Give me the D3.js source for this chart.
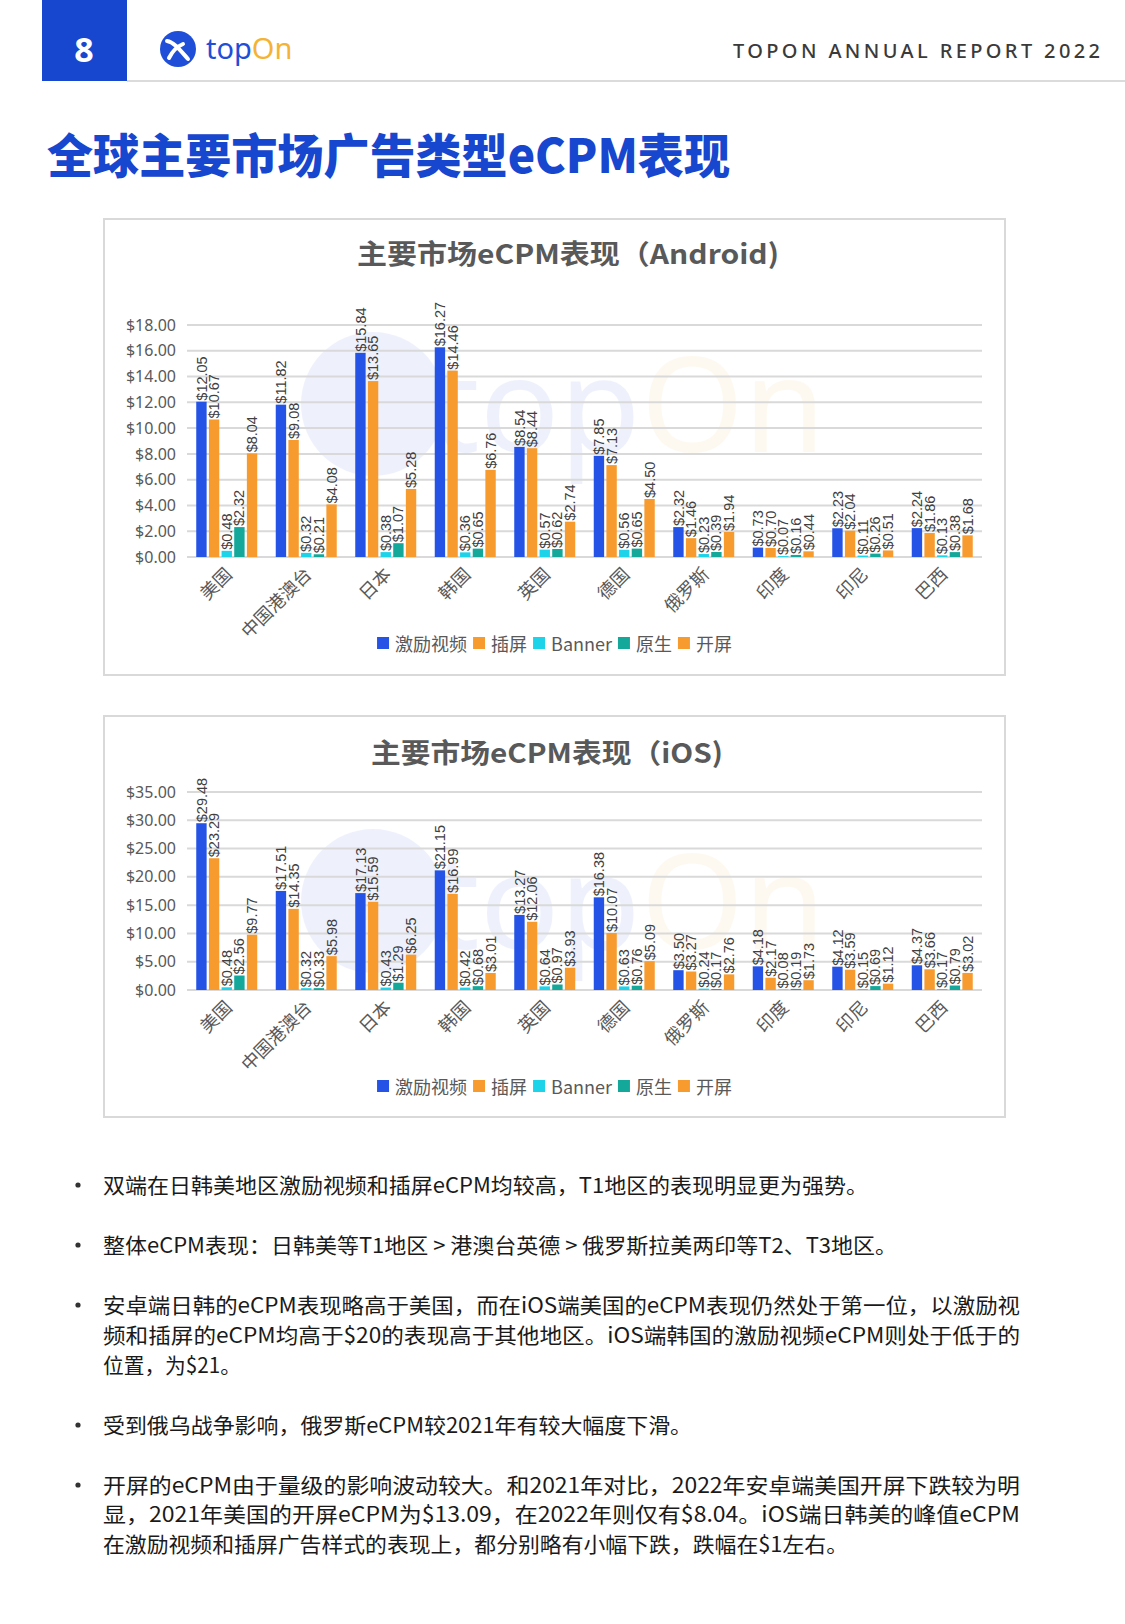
<!DOCTYPE html>
<html><head><meta charset="utf-8">
<script src="https://cdn.jsdelivr.net/npm/d3@7"></script>
<style>
html,body{margin:0;padding:0;background:#fff;}
svg{display:block;}
</style></head>
<body>
<script>
// ---------- DATA ----------
const categories = ["美国","中国港澳台","日本","韩国","英国","德国","俄罗斯","印度","印尼","巴西"];
const seriesNames = ["激励视频","插屏","Banner","原生","开屏"];
const seriesColors = ["#2453E6","#F79B2E","#1DD3EA","#14A89A","#F79B2E"];

const androidRewarded     = [12.05,11.82,15.84,16.27,8.54,7.85,2.32,0.73,2.23,2.24];
const androidInterstitial = [10.67,9.08,13.65,14.46,8.44,7.13,1.46,0.70,2.04,1.86];
const androidBanner       = [0.48,0.32,0.38,0.36,0.57,0.56,0.23,0.07,0.11,0.13];
const androidNative       = [2.32,0.21,1.07,0.65,0.62,0.65,0.39,0.16,0.26,0.38];
const androidSplash       = [8.04,4.08,5.28,6.76,2.74,4.50,1.94,0.44,0.51,1.68];

const iosRewarded     = [29.48,17.51,17.13,21.15,13.27,16.38,3.50,4.18,4.12,4.37];
const iosInterstitial = [23.29,14.35,15.59,16.99,12.06,10.07,3.27,2.17,3.59,3.66];
const iosBanner       = [0.48,0.32,0.43,0.42,0.64,0.63,0.24,0.08,0.15,0.17];
const iosNative       = [2.56,0.33,1.29,0.68,0.97,0.76,0.17,0.19,0.69,0.79];
const iosSplash       = [9.77,5.98,6.25,3.01,3.93,5.09,2.76,1.73,1.12,3.02];

const androidTicks = [0,2,4,6,8,10,12,14,16,18];
const iosTicks = [0,5,10,15,20,25,30,35];

const pageTitle = "全球主要市场广告类型eCPM表现";
const androidTitle = "主要市场eCPM表现（Android)";
const iosTitle = "主要市场eCPM表现（iOS)";
const bullets = [
  ["双端在日韩美地区激励视频和插屏eCPM均较高，T1地区的表现明显更为强势。"],
  ["整体eCPM表现：日韩美等T1地区 > 港澳台英德 > 俄罗斯拉美两印等T2、T3地区。"],
  ["安卓端日韩的eCPM表现略高于美国，而在iOS端美国的eCPM表现仍然处于第一位，以激励视",
   "频和插屏的eCPM均高于$20的表现高于其他地区。iOS端韩国的激励视频eCPM则处于低于的",
   "位置，为$21。"],
  ["受到俄乌战争影响，俄罗斯eCPM较2021年有较大幅度下滑。"],
  ["开屏的eCPM由于量级的影响波动较大。和2021年对比，2022年安卓端美国开屏下跌较为明",
   "显，2021年美国的开屏eCPM为$13.09，在2022年则仅有$8.04。iOS端日韩美的峰值eCPM",
   "在激励视频和插屏广告样式的表现上，都分别略有小幅下跌，跌幅在$1左右。"]
];

// ---------- DRAW ----------
const W = 1125, H = 1624;
const svg = d3.select("body").append("svg").attr("width", W).attr("height", H);
svg.append("rect").attr("width", W).attr("height", H).attr("fill", "#fff");

const CJK = "'Noto Sans CJK SC','Noto Sans',sans-serif";

// header
svg.append("rect").attr("x",42).attr("y",0).attr("width",85).attr("height",81).attr("fill","#1746CF");
svg.append("text").attr("x",84).attr("y",49).attr("text-anchor","middle").attr("dominant-baseline","central")
  .attr("font-family","'Noto Sans',sans-serif").attr("font-weight",700).attr("font-size",34).attr("fill","#fff").text("8");
svg.append("line").attr("x1",127).attr("x2",1125).attr("y1",81).attr("y2",81).attr("stroke","#cfcfcf").attr("stroke-width",1.5);
// logo
const logo = svg.append("g");
logo.append("circle").attr("cx",178).attr("cy",49).attr("r",18).attr("fill","#1F4FD8");
logo.append("path").attr("d","M167,41 C174,42 180,50 188,59").attr("fill","none").attr("stroke","#fff").attr("stroke-width",4).attr("stroke-linecap","round");
logo.append("path").attr("d","M169,58 C172,52 176,47 183,44").attr("fill","none").attr("stroke","#fff").attr("stroke-width",4).attr("stroke-linecap","round");
const lt = svg.append("text").attr("x",206).attr("y",59).attr("font-family","'Noto Sans',sans-serif").attr("font-size",29);
lt.append("tspan").attr("fill","#1F4FD8").text("top");
lt.append("tspan").attr("fill","#F5B335").text("On");
svg.append("text").attr("x",733).attr("y",50).attr("dominant-baseline","central")
  .attr("font-family","'Noto Sans',sans-serif").attr("font-weight",500).attr("font-size",20).attr("fill","#3a3a3a")
  .attr("textLength",367).attr("lengthAdjust","spacing").text("TOPON ANNUAL REPORT 2022");

// page title
svg.append("text").attr("x",47).attr("y",152).attr("dominant-baseline","central")
  .attr("font-family",CJK).attr("font-weight",900).attr("font-size",47).attr("fill","#1746CF")
  .attr("textLength",683).attr("lengthAdjust","spacingAndGlyphs").text(pageTitle);

function drawChart(cfg) {
  const g = svg.append("g");
  g.append("rect").attr("x",cfg.box[0]).attr("y",cfg.box[1]).attr("width",cfg.box[2]).attr("height",cfg.box[3])
    .attr("fill","#fff").attr("stroke","#d9d9d9").attr("stroke-width",2);

  // watermark
  const wm = g.append("g").attr("opacity",0.07);
  wm.append("circle").attr("cx",373).attr("cy",cfg.wmY).attr("r",72).attr("fill","#1F4FD8");
  const wt = wm.append("text").attr("x",432).attr("y",cfg.wmY+48).attr("font-family","'Noto Sans',sans-serif").attr("font-size",132);
  wt.append("tspan").attr("fill","#1F4FD8").text("top");
  wt.append("tspan").attr("fill","#F5B335").text("On");

  g.append("text").attr("x",cfg.titleX).attr("y",cfg.titleY).attr("text-anchor","middle").attr("dominant-baseline","central")
    .attr("font-family",CJK).attr("font-weight",700).attr("font-size",27).attr("fill","#595959")
    .attr("textLength",cfg.titleW).attr("lengthAdjust","spacingAndGlyphs").text(cfg.title);

  const x0 = d3.scaleBand().domain(categories).range([187, 982]);
  const groupW = 61;
  const x1 = d3.scaleBand().domain(d3.range(seriesNames.length))
    .range([(x0.bandwidth()-groupW)/2, (x0.bandwidth()+groupW)/2]).paddingInner(0.18);
  const y = d3.scaleLinear().domain([0, cfg.ticks[cfg.ticks.length-1]]).range([cfg.yBottom, cfg.yTop]);

  // gridlines
  g.append("g").selectAll("line").data(cfg.ticks).join("line")
    .attr("x1",187).attr("x2",982).attr("y1",d=>y(d)).attr("y2",d=>y(d))
    .attr("stroke","#d9d9d9").attr("stroke-width",2);
  // y axis labels
  const yAxis = d3.axisLeft(y).tickValues(cfg.ticks).tickSize(0).tickPadding(0).tickFormat(d=>"$"+d.toFixed(2));
  const ya = g.append("g").attr("transform","translate(176,0)").call(yAxis);
  ya.select(".domain").remove();
  ya.selectAll("text").attr("font-family","'Noto Sans',sans-serif").attr("font-size",16).attr("fill","#595959");

  // bars
  const series = cfg.series;
  const barsG = g.append("g");
  categories.forEach((c, ci) => {
    series.forEach((s, si) => {
      barsG.append("rect").attr("x", x0(c)+x1(si)).attr("width", x1.bandwidth())
        .attr("y", y(s[ci])).attr("height", cfg.yBottom - y(s[ci])).attr("fill", seriesColors[si]);
    });
  });
  const labG = g.append("g");
  categories.forEach((c, ci) => {
    series.forEach((s, si) => {
      const cx = x0(c)+x1(si)+x1.bandwidth()/2;
      labG.append("text").attr("transform",`translate(${cx},${y(s[ci])-1}) rotate(-90)`)
        .attr("dy","0.35em").attr("font-family","'Liberation Sans',Arial,sans-serif").attr("font-size",14.5)
        .attr("fill","#404040").text("$"+s[ci].toFixed(2));
    });
  });

  // x labels
  const xa = d3.axisBottom(x0).tickSize(0).tickPadding(0);
  const xg = g.append("g").attr("transform",`translate(0,${cfg.yBottom})`).call(xa);
  xg.select(".domain").remove();
  xg.selectAll("text").attr("font-family",CJK).attr("font-size",18).attr("fill","#595959")
    .attr("text-anchor","end").attr("dy","0.35em")
    .attr("transform","translate(2,14) rotate(-45)");

  // legend
  const lg = g.append("g");
  let lx = 0;
  seriesNames.forEach((n, i) => {
    const it = lg.append("g");
    it.append("rect").attr("x",lx).attr("y",cfg.legendY-6).attr("width",12).attr("height",12).attr("fill",seriesColors[i]);
    const t = it.append("text").attr("x",lx+18).attr("y",cfg.legendY).attr("dominant-baseline","central")
      .attr("font-family",CJK).attr("font-size",18).attr("fill","#595959").text(n);
    lx += 18 + t.node().getComputedTextLength() + 6;
  });
  const total = lx - 6;
  lg.attr("transform",`translate(${(cfg.box[0]+cfg.box[2]/2) - total/2},0)`);
}

drawChart({box:[104,219,901,456], title:androidTitle, titleX:568, titleY:252, titleW:422,
  ticks:androidTicks, yTop:325, yBottom:557, legendY:643, wmY:404,
  series:[androidRewarded,androidInterstitial,androidBanner,androidNative,androidSplash]});
drawChart({box:[104,716,901,401], title:iosTitle, titleX:547, titleY:751, titleW:352,
  ticks:iosTicks, yTop:792, yBottom:990, legendY:1086, wmY:901,
  series:[iosRewarded,iosInterstitial,iosBanner,iosNative,iosSplash]});

// bullets
const lineY = [[1184],[1244],[1304,1334,1364],[1424],[1484,1513,1543]];
const lineW = [[765],[794],[917,917,138],[589],[917,917,745]];
const tg = svg.append("g");
bullets.forEach((b, bi) => {
  tg.append("circle").attr("cx",78).attr("cy",lineY[bi][0]+1).attr("r",2.6).attr("fill","#333");
  b.forEach((line, li) => {
    tg.append("text").attr("x",103).attr("y",lineY[bi][li]).attr("dominant-baseline","central")
      .attr("font-family",CJK).attr("font-size",21).attr("fill","#1a1a1a")
      .attr("textLength",lineW[bi][li]).attr("lengthAdjust","spacingAndGlyphs").text(line);
  });
});
</script>
</body></html>
